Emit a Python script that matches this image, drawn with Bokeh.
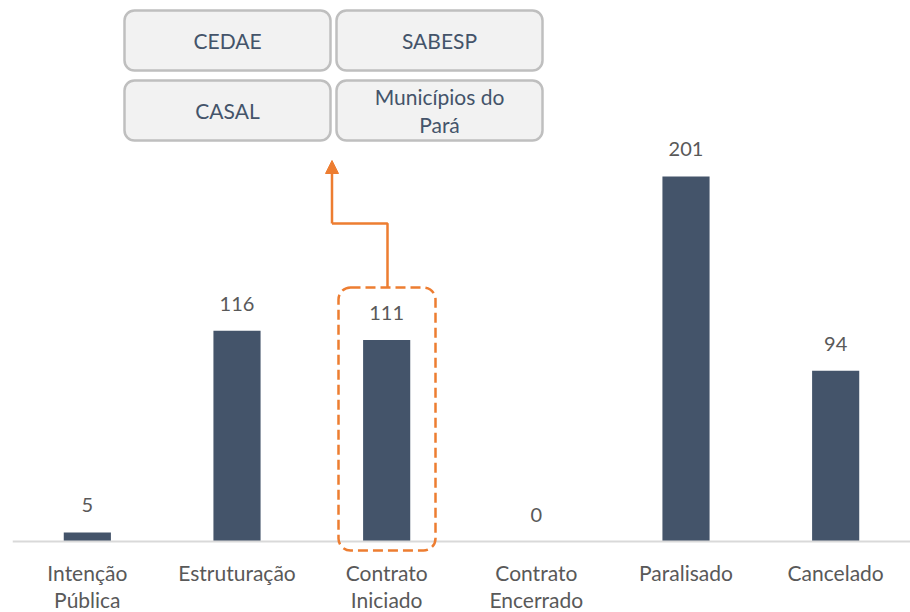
from bokeh.plotting import figure
from bokeh.models import (Range1d, BoxAnnotation, Span, Arrow, NormalHead,
                          ColumnDataSource, FixedTicker)
from bokeh.core.properties import value
from bokeh.embed import file_html
from bokeh.resources import INLINE

# ---- data ----
categories = ["Intenção\nPública", "Estruturação", "Contrato\nIniciado",
              "Contrato\nEncerrado", "Paralisado", "Cancelado"]
counts = [5, 116, 111, 0, 201, 94]
box_labels = ["CEDAE", "SABESP", "CASAL", "Municípios do\nPará"]

# ---- layout helpers (page pixels -> data units) ----
FRAME_LEFT = 12.0
BASE_Y = 541.0
PX_X = 898.0 / 6.0
PX_Y = 1.816


def dx(px):
    return (px - FRAME_LEFT) / PX_X


def dy(py):
    return (BASE_Y - py) / PX_Y


xs = [i + 0.5 for i in range(len(categories))]

p = figure(frame_width=898, frame_height=553, output_backend="svg",
           toolbar_location=None,
           x_range=Range1d(0, 6), y_range=Range1d(dy(553), dy(0)),
           min_border_left=12, min_border_right=0, min_border_top=0,
           min_border_bottom=55)
p.outline_line_color = None
p.grid.visible = False
p.yaxis.visible = False
p.background_fill_color = "white"
p.border_fill_color = "white"

src = ColumnDataSource(dict(x=xs, top=counts, lab=[str(c) for c in counts]))
p.vbar(x="x", top="top", bottom=0, width=0.315, source=src,
       fill_color="#44546A", line_color=None)

p.text(x="x", y="top", text="lab", source=src, text_align="center",
       text_baseline="middle", y_offset=-27, text_font=value("Lato"),
       text_font_size="20px", text_color="#595959")

p.add_layout(Span(location=0, dimension="width", line_color="#d9d9d9",
                  line_width=2))

ax = p.xaxis[0]
ax.ticker = FixedTicker(ticks=xs)
ax.major_label_overrides = {x: c for x, c in zip(xs, categories)}
ax.axis_line_color = None
ax.major_tick_line_color = None
ax.minor_tick_line_color = None
ax.major_tick_out = 0
ax.major_tick_in = 0
ax.major_label_standoff = 6
ax.major_label_text_font = "Lato"
ax.major_label_text_font_size = "21px"
ax.major_label_text_color = "#595959"
ax.major_label_text_line_height = 1.1

# highlight box around "Contrato Iniciado"
p.add_layout(BoxAnnotation(left=dx(338), right=dx(435), top=dy(287),
                           bottom=dy(550), fill_alpha=0, line_color="#ED7D31",
                           line_alpha=1, line_width=2.5, line_dash="10 5",
                           border_radius=12))

# arrow
p.line(x=[dx(387), dx(387), dx(331.5)], y=[dy(287), dy(223), dy(223)],
       line_color="#ED7D31", line_width=2.5)
p.add_layout(Arrow(x_start=dx(331.5), y_start=dy(223), x_end=dx(331.5),
                   y_end=dy(160), line_color="#ED7D31", line_width=2.5,
                   end=NormalHead(size=13, fill_color="#ED7D31",
                                  line_color="#ED7D31")))

# company boxes
cols = [(124, 330), (336, 542)]
rows = [(10, 70), (80, 140)]
bx, by = [], []
for r in rows:
    for c in cols:
        p.add_layout(BoxAnnotation(left=dx(c[0]), right=dx(c[1]),
                                   top=dy(r[0]), bottom=dy(r[1]),
                                   fill_color="#F2F2F2", fill_alpha=1,
                                   line_color="#BFBFBF", line_alpha=1,
                                   line_width=2.5, border_radius=10,
                                   level="underlay"))
        bx.append(dx((c[0] + c[1]) / 2))
        by.append(dy((r[0] + r[1]) / 2))

p.text(x=bx, y=by, text=box_labels, text_align="center",
       text_baseline="middle", text_font=value("Lato"),
       text_font_size="21px", text_color="#44546A", text_line_height=1.15)

open("out.html", "w").write(file_html(p, INLINE))
